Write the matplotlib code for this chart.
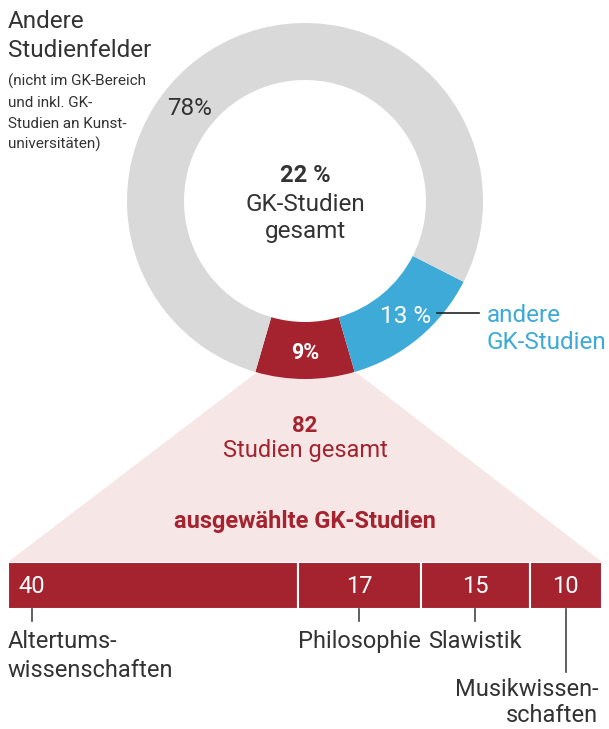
import matplotlib
matplotlib.use("Agg")
import matplotlib.pyplot as plt
from matplotlib.patches import Polygon

plt.rcParams['font.family'] = ['Roboto', 'DejaVu Sans']

# Anteile am Ring (in %)
ring_labels = ["ausgewählte GK-Studien", "andere GK-Studien", "Andere Studienfelder"]
ring_values = [9, 13, 78]
ring_colors = ["#A4232F", "#3EAAD7", "#D9D9D9"]

# ausgewählte GK-Studien (Anzahl)
studien = ["Altertums-\nwissenschaften", "Philosophie", "Slawistik", "Musikwissen-\nschaften"]
anzahl = [40, 17, 15, 10]

RED = "#A4232F"
BLUE = "#3EAAD7"
DARK = "#333333"
PINK = "#F6E7E6"

fig = plt.figure(figsize=(6.09, 7.29), dpi=100)
ax = fig.add_axes([0, 0, 1, 1])

# Ring (y-Achse invertiert -> Pixelkoordinaten)
cx, cy, r_out, r_in = 305, 201, 178, 121
half = ring_values[0] / 100 * 360 / 2
ax.pie(ring_values, colors=ring_colors, center=(cx, cy), radius=r_out,
       startangle=90 + half, counterclock=False,
       wedgeprops=dict(width=r_out - r_in, linewidth=0))
ax.set_xlim(0, 609)
ax.set_ylim(729, 0)
ax.set_aspect("equal")
ax.axis("off")

# rosa Trichter zum Balken
ax.add_patch(Polygon([(256, 373), (8, 562), (602, 562), (357, 373)],
                     closed=True, facecolor=PINK, edgecolor="none", zorder=0))

# Texte oben
ax.text(8, 28, "Andere", fontsize=17.5, color=DARK, va="baseline")
ax.text(8, 57, "Studienfelder", fontsize=17.5, color=DARK, va="baseline")
klein = ["(nicht im GK-Bereich", "und inkl. GK-", "Studien an Kunst-", "universitäten)"]
for i, t in enumerate(klein):
    ax.text(8, 86 + i * 21, t, fontsize=11, color=DARK, va="baseline")

ax.text(190, 115, f"{ring_values[2]}%", fontsize=17.5, color=DARK, ha="center", va="baseline")
ax.text(cx, 182, f"{ring_values[0] + ring_values[1]} %", fontsize=17, color=DARK,
        ha="center", va="baseline", fontweight="bold")
ax.text(cx, 211, "GK-Studien", fontsize=17.5, color=DARK, ha="center", va="baseline")
ax.text(cx, 238, "gesamt", fontsize=17.5, color=DARK, ha="center", va="baseline")

ax.text(406, 323, f"{ring_values[1]} %", fontsize=17.5, color="white", ha="center", va="baseline")
ax.plot([437, 479], [313, 313], color="#222222", lw=1.2)
ax.text(487, 322, "andere", fontsize=17.5, color=BLUE, va="baseline")
ax.text(487, 349, "GK-Studien", fontsize=17.5, color=BLUE, va="baseline")

ax.text(cx, 359, f"{ring_values[0]}%", fontsize=15.5, color="white", ha="center",
        va="baseline", fontweight="bold")

ax.text(cx, 432, f"{sum(anzahl)}", fontsize=16, color=RED, ha="center", va="baseline", fontweight="bold")
ax.text(cx, 457, "Studien gesamt", fontsize=17, color=RED, ha="center", va="baseline")
ax.text(cx, 528, "ausgewählte GK-Studien", fontsize=17, color=RED, ha="center",
        va="baseline", fontweight="bold")

# gestapelter Balken
bx = fig.add_axes([8 / 609, (729 - 609) / 729, 594 / 609, 47 / 729])
left = 0
for n in anzahl:
    bx.barh(585.5, n, left=left, height=47, color=RED, edgecolor="white", linewidth=1.5)
    left += n
bx.set_xlim(0, sum(anzahl))
bx.set_ylim(609, 562)
bx.axis("off")

# Beschriftungen am Balken
starts = [sum(anzahl[:i]) for i in range(len(anzahl))]
tick_x = [3.3] + [s + n / 2 for s, n in zip(starts[1:], anzahl[1:])]
tick_end = [621, 621, 621, 672]
for i, (n, x) in enumerate(zip(anzahl, tick_x)):
    bx.text(x, 593, str(n), fontsize=17, color="white", ha="center", va="baseline")
    bx.plot([x, x], [609, tick_end[i]], color="#444444", lw=1.2, clip_on=False)

bx.text(0, 648, "Altertums-", fontsize=17, color=DARK, va="baseline", clip_on=False)
bx.text(0, 677, "wissenschaften", fontsize=17, color=DARK, va="baseline", clip_on=False)
bx.text(tick_x[1], 648, studien[1], fontsize=17, color=DARK, ha="center", va="baseline", clip_on=False)
bx.text(tick_x[2], 648, studien[2], fontsize=17, color=DARK, ha="center", va="baseline", clip_on=False)
bx.text(81.5, 696, "Musikwissen-", fontsize=17, color=DARK, ha="right", va="baseline", clip_on=False)
bx.text(81.5, 722, "schaften", fontsize=17, color=DARK, ha="right", va="baseline", clip_on=False)

fig.savefig("out.png", dpi=100)
